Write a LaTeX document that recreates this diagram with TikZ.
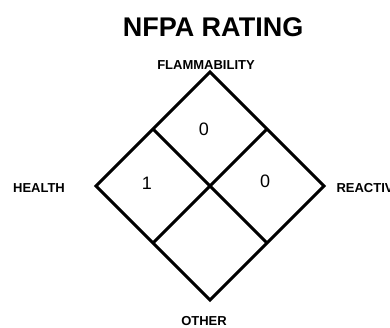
\documentclass[tikz,border=0pt]{standalone}
\usepackage{fontspec}
\setmainfont{Liberation Sans}
\usetikzlibrary{calc}
\tikzset{
  sidelabel/.style={font=\fontsize{13}{13}\selectfont\bfseries,inner sep=0pt},
  rating/.style={font=\fontsize{18}{18}\selectfont,inner sep=0pt}
}
\begin{document}
\begin{tikzpicture}[x=1pt,y=1pt,line width=3pt,line join=miter]
  \useasboundingbox (0,0) rectangle (390,327);
  \clip (0,0) rectangle (390,327);
  % diamond corners
  \coordinate (c) at (210,141);
  \coordinate (t) at (210,255);
  \coordinate (r) at (324,141);
  \coordinate (b) at (210,27);
  \coordinate (l) at (96,141);
  \draw (t) -- (r) -- (b) -- (l) -- cycle;
  % cross through the centre
  \draw ($(t)!0.5!(l)$) -- ($(r)!0.5!(b)$);
  \draw ($(t)!0.5!(r)$) -- ($(l)!0.5!(b)$);

  \node[font=\fontsize{27}{27}\selectfont\bfseries,inner sep=0pt] (title) at (213,300) {NFPA RATING};
  \node[sidelabel] (flam) at (206,262) {FLAMMABILITY};
  \node[sidelabel] (health) at (39,139) {HEALTH};
  \node[sidelabel,anchor=west] (react) at (335,139) {REACTIVITY};
  \node[sidelabel] (other) at (204,6) {OTHER};

  \node[rating] (nflam) at (204,198) {0};
  \node[rating] (nhealth) at (147,144) {1};
  \node[rating] (nreact) at (265,146) {0};
\end{tikzpicture}
\end{document}
